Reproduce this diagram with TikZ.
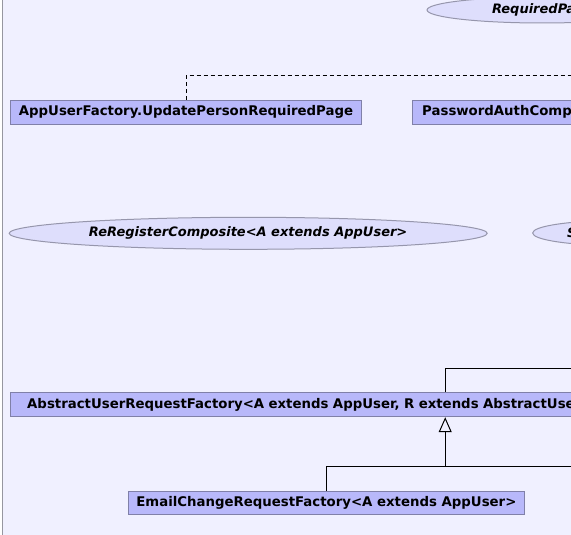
\documentclass[tikz,border=0pt]{standalone}
\usepackage{fontspec}
\setmainfont{DejaVu Sans}
\usetikzlibrary{shapes.geometric,arrows.meta}
\definecolor{canvasbg}{RGB}{240,240,255}
\definecolor{boxfill}{RGB}{184,184,250}
\definecolor{boxline}{RGB}{128,128,168}
\definecolor{ovalfill}{RGB}{222,222,252}
\definecolor{ovalline}{RGB}{150,150,172}
\definecolor{frameline}{RGB}{150,150,160}
\begin{document}
\begin{tikzpicture}[x=1bp, y=-1bp,
  classbox/.style={draw=boxline, fill=boxfill, line width=1bp, inner sep=0pt, minimum height=24bp, font=\fontsize{13.3bp}{15bp}\selectfont\bfseries},
  ifaceoval/.style={ellipse, draw=ovalline, fill=ovalfill, line width=1bp, inner sep=0pt, font=\fontsize{13bp}{15bp}\selectfont\bfseries\itshape},
  realize/.style={line width=1bp, dash pattern=on 4bp off 3bp},
  inherit/.style={line width=1bp}]
\useasboundingbox (0,0) rectangle (571,535); \clip (0,0) rectangle (571,535);
\fill[canvasbg] (2,0) rectangle (571,535); \draw[frameline, line width=1bp] (2.5,0) -- (2.5,535);
\node[ifaceoval, minimum width=230bp, minimum height=26bp, text width=100bp, align=left] (rqp) at (542,10) {RequiredPa};
\node[classbox, minimum width=351.5bp] (upr) at (186,112.2) {AppUserFactory.UpdatePersonRequiredPage};
\node[classbox, anchor=west, text width=280bp, inner xsep=10bp, align=left] (pac) at (411.7,112.2) {PasswordAuthComp};
\node[ifaceoval, minimum width=478bp, minimum height=32bp] (rrc) at (248.2,233.3) {ReRegisterComposite<A extends AppUser>};
\node[ifaceoval, minimum width=168.8bp, minimum height=25bp, text width=100bp, align=left] (sxx) at (617,233) {S};
\node[classbox, minimum width=870bp, text width=836bp, inner xsep=17bp, align=left] (aurf) at (445.2,404.7) {AbstractUserRequestFactory<A extends AppUser, R extends AbstractUse};
\node[classbox, minimum width=396.4bp, minimum height=23bp] (ecrf) at (326.4,503) {EmailChangeRequestFactory<A extends AppUser>};
\coordinate (rqpIn) at (600,75.3); \coordinate (absUp) at (600,368);
\coordinate (genJoin) at (445.2,466); \coordinate (genRight) at (600,466);
\draw[realize] (upr.north) |- (rqpIn);
\draw[inherit] (aurf.north) |- (absUp);
\draw[inherit] (ecrf.north) |- (genRight);
\draw[inherit, -{Triangle[open, length=15bp, width=13bp]}] (genJoin) -- (aurf.south);
\end{tikzpicture}
\end{document}
